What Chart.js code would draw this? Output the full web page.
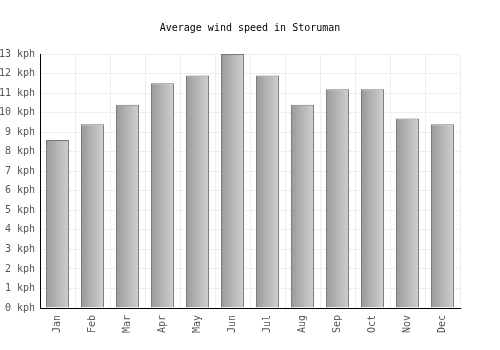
<!DOCTYPE html>
<html>
<head>
<meta charset="utf-8">
<script src="https://cdn.jsdelivr.net/npm/chart.js@4"></script>
<style>
  html, body { margin: 0; padding: 0; background: #fff; }
  #wrap { width: 500px; height: 350px; }
</style>
</head>
<body>
<div id="wrap"><canvas id="grafica" width="500" height="350"></canvas></div>
<script>
// data
const months = ['Jan', 'Feb', 'Mar', 'Apr', 'May', 'Jun', 'Jul', 'Aug', 'Sep', 'Oct', 'Nov', 'Dec'];
const windKph = [8.6, 9.4, 10.4, 11.5, 11.9, 13, 11.9, 10.4, 11.2, 11.2, 9.7, 9.4];
const yTicks = [0, 1, 2, 3, 4, 5, 6, 7, 8, 9, 10, 11, 12, 13];

const monoFont = "'DejaVu Sans Mono', monospace";

// each bar gets its own left-to-right grey gradient
function barFill(ctx) {
  const chart = ctx.chart;
  const x = chart.scales && chart.scales.x;
  if (!chart.chartArea || !x || ctx.dataIndex === undefined) return '#b0b0b0';
  const cx = x.getPixelForValue(ctx.dataIndex);
  const half = 11.5;
  const g = chart.ctx.createLinearGradient(cx - half, 0, cx + half, 0);
  g.addColorStop(0, '#999999');
  g.addColorStop(1, '#d0d0d0');
  return g;
}

const graph = document.querySelector('#grafica');

const data = {
  labels: months,
  datasets: [{
    label: 'Wind speed',
    data: windKph,
    backgroundColor: barFill,
    borderColor: '#777777',
    borderWidth: 1,
    categoryPercentage: 1,
    barPercentage: 0.66
  }]
};

const config = {
  type: 'bar',
  data: data,
  options: {
    responsive: false,
    animation: false,
    layout: { padding: 0 },
    plugins: {
      legend: { display: false },
      tooltip: { enabled: false },
      title: {
        display: true,
        text: 'Average wind speed in Storuman',
        color: '#000',
        font: { family: monoFont, size: 10, weight: 'normal' },
        padding: { top: 22, bottom: 20 }
      }
    },
    scales: {
      x: {
        grid: { color: '#eeeeee', drawTicks: false },
        border: { display: true, color: '#000', width: 1 },
        ticks: {
          color: '#555',
          font: { family: monoFont, size: 10 },
          minRotation: 90,
          maxRotation: 90,
          padding: 7
        },
        afterFit: function (s) { s.height = 42; }
      },
      y: {
        min: 0,
        max: 13,
        afterBuildTicks: function (s) { s.ticks = yTicks.map(v => ({ value: v })); },
        grid: { color: '#eeeeee', drawTicks: false },
        border: { display: true, color: '#000', width: 1 },
        ticks: {
          color: '#555',
          font: { family: monoFont, size: 10 },
          padding: 5,
          callback: function (v) { return v + ' kph'; }
        },
        afterFit: function (s) { s.width = 40; }
      },
      // empty axis on the right, only to keep the blank margin there
      yRight: {
        position: 'right',
        min: 0,
        max: 13,
        grid: { display: false, drawOnChartArea: false },
        border: { display: false },
        ticks: { display: false },
        afterFit: function (s) { s.width = 40; }
      }
    }
  }
};
new Chart(graph, config);
</script>
</body>
</html>
